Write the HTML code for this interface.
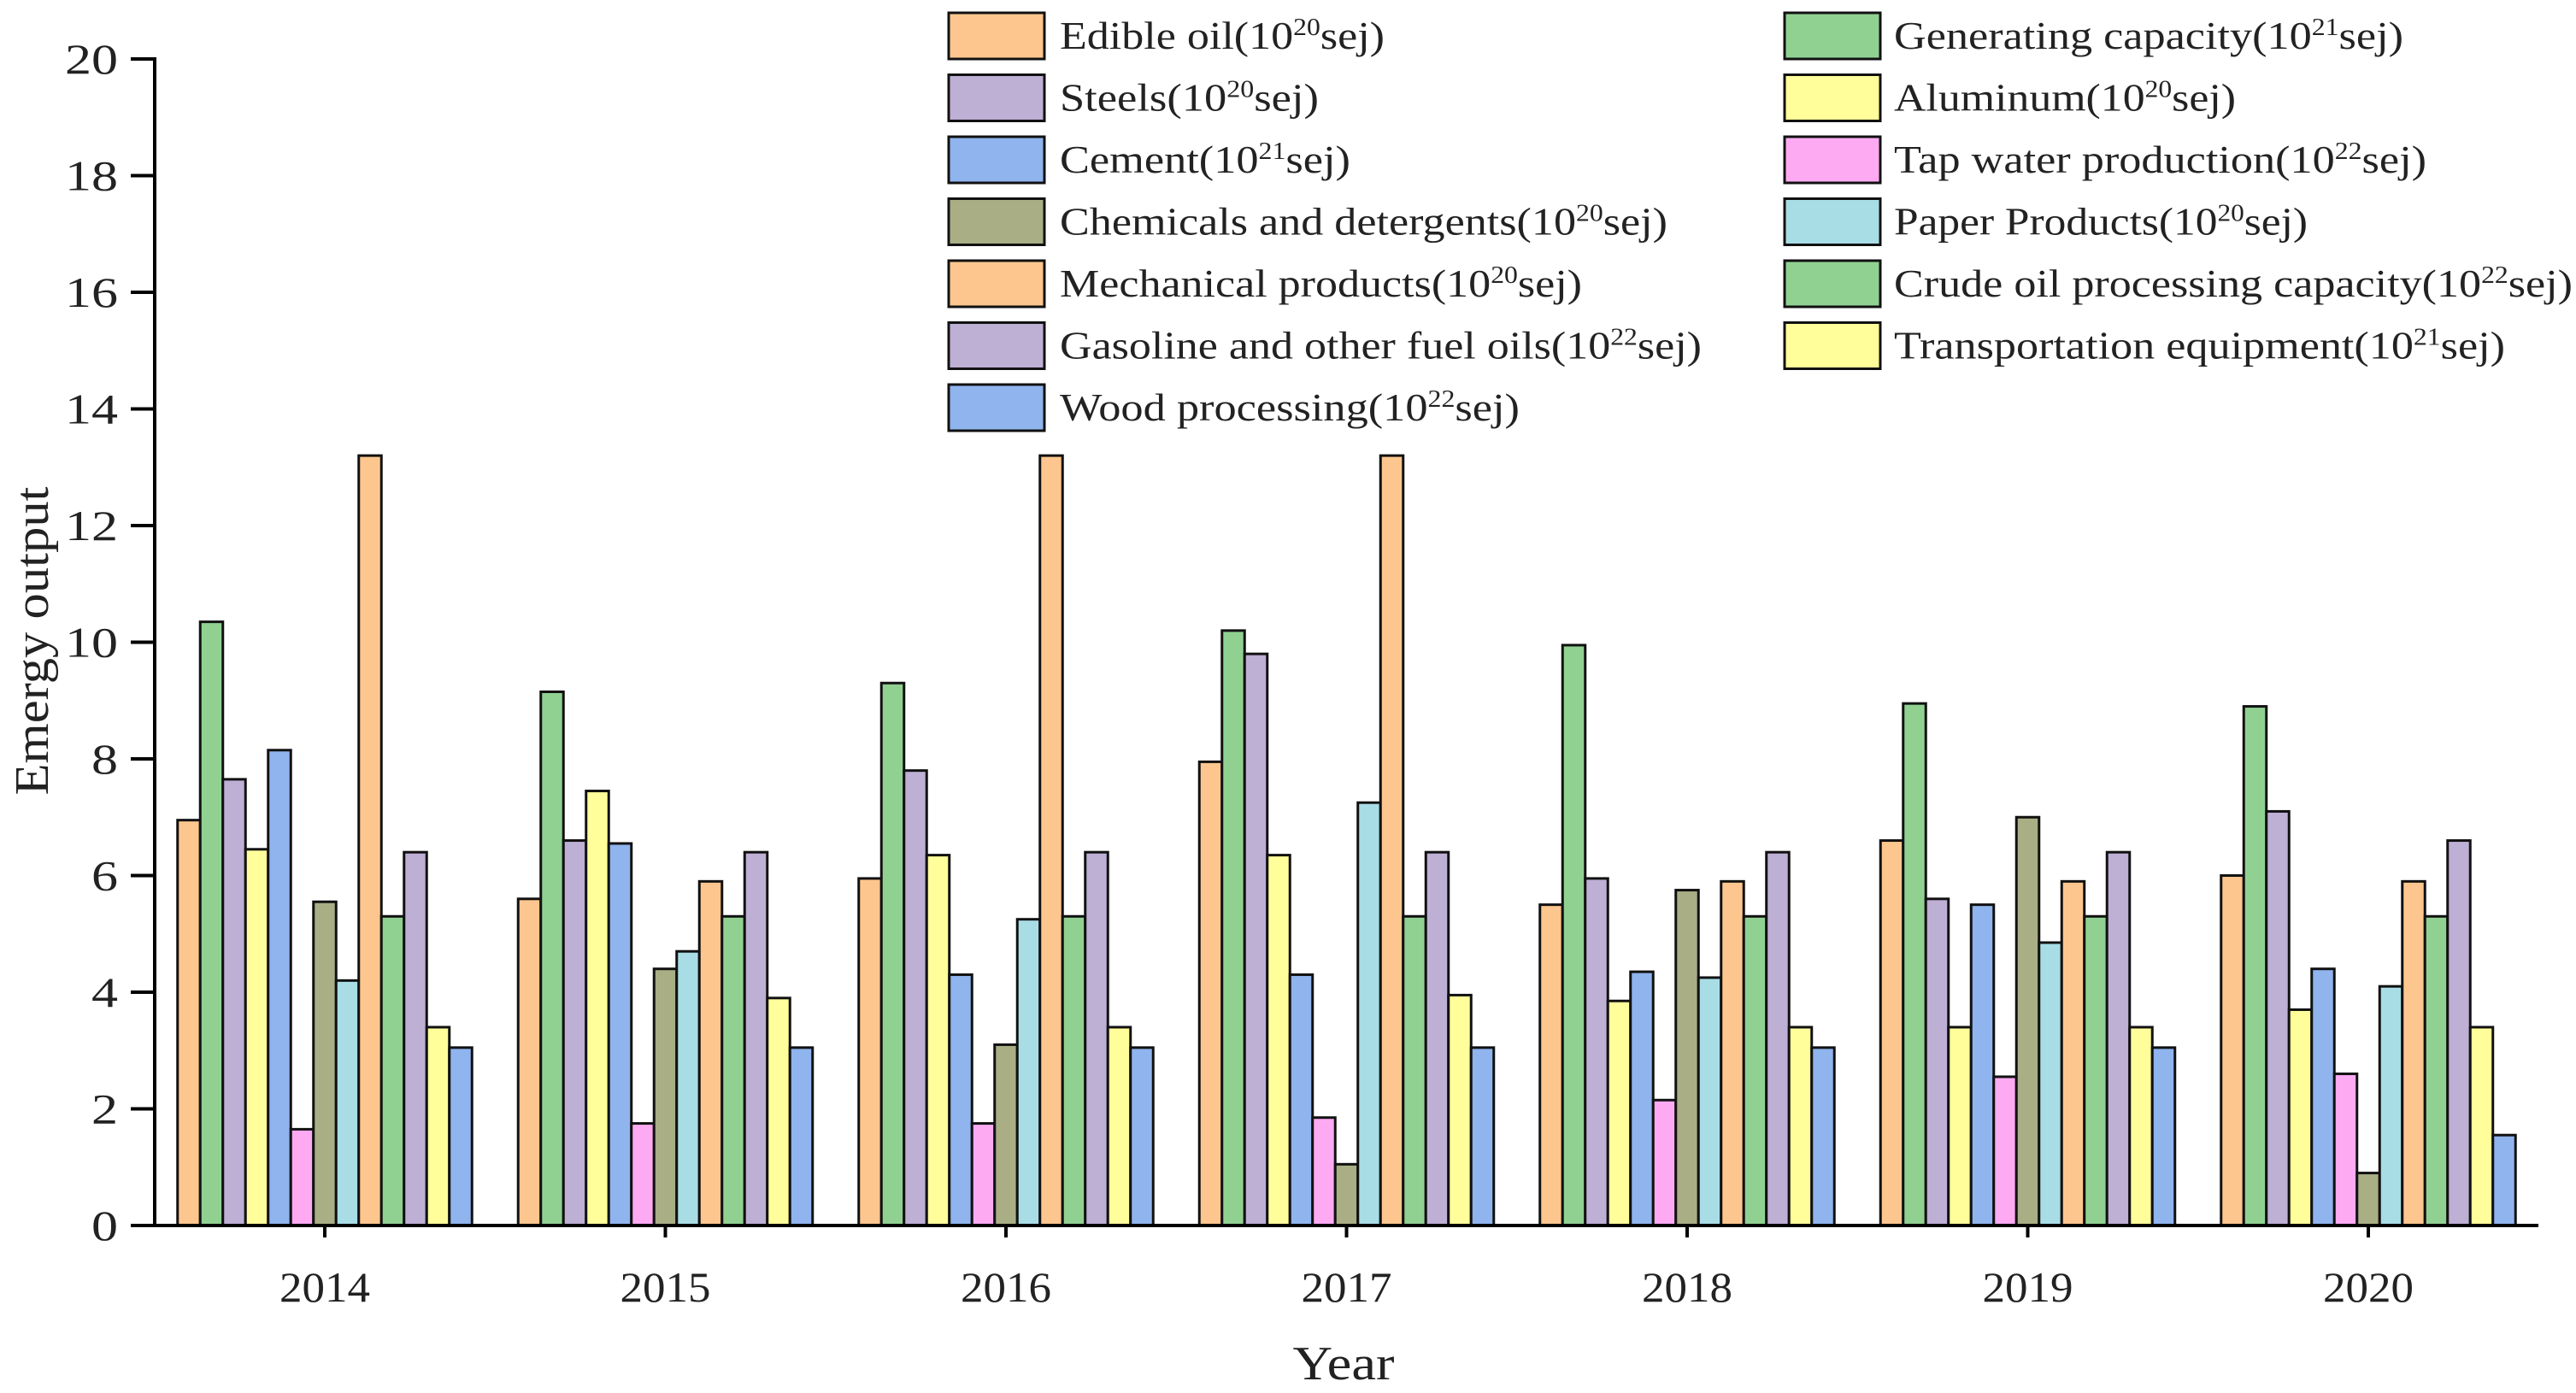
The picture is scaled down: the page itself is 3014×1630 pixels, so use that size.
<!DOCTYPE html>
<html><head><meta charset="utf-8"><style>html,body{margin:0;padding:0;background:#fff}svg{display:block}</style></head>
<body>
<svg id="chart" width="3014" height="1630" viewBox="0 0 3014 1630" xmlns="http://www.w3.org/2000/svg" font-family="'Liberation Serif', serif">
<g id="bars"></g>
<g id="axes"></g>
<g id="legend"></g>
</svg>
<script>
const years = ["2014","2015","2016","2017","2018","2019","2020"];
const seriesNames = ["Edible oil","Generating capacity","Steels","Aluminum","Cement","Tap water production","Chemicals and detergents","Paper Products","Mechanical products","Crude oil processing capacity","Gasoline and other fuel oils","Transportation equipment","Wood processing"];
const seriesExp = ["20","21","20","20","21","22","20","20","20","22","22","21","22"];
const edibleOil = [6.95,5.6,5.95,7.95,5.5,6.6,6.0];
const generating = [10.35,9.15,9.3,10.2,9.95,8.95,8.9];
const steels = [7.65,6.6,7.8,9.8,5.95,5.6,7.1];
const aluminum = [6.45,7.45,6.35,6.35,3.85,3.4,3.7];
const cement = [8.15,6.55,4.3,4.3,4.35,5.5,4.4];
const tapWater = [1.65,1.75,1.75,1.85,2.15,2.55,2.6];
const chemicals = [5.55,4.4,3.1,1.05,5.75,7.0,0.9];
const paper = [4.2,4.7,5.25,7.25,4.25,4.85,4.1];
const mechanical = [13.2,5.9,13.2,13.2,5.9,5.9,5.9];
const crudeOil = [5.3,5.3,5.3,5.3,5.3,5.3,5.3];
const gasoline = [6.4,6.4,6.4,6.4,6.4,6.4,6.6];
const transport = [3.4,3.9,3.4,3.95,3.4,3.4,3.4];
const wood = [3.05,3.05,3.05,3.05,3.05,3.05,1.55];
const yTicks = [0,2,4,6,8,10,12,14,16,18,20];

const allSeries = [edibleOil,generating,steels,aluminum,cement,tapWater,chemicals,paper,mechanical,crudeOil,gasoline,transport,wood];
const colors = ["#FDC68E","#90D192","#BEAFD5","#FFFE9A","#8FB4EE","#FDAAF3","#A9AE85","#A9DDE6","#FDC68E","#90D192","#BEAFD5","#FFFE9A","#8FB4EE"];
const NS = "http://www.w3.org/2000/svg";
const X0 = 181, X1 = 2970, Y0 = 1434, Y20 = 69;
const firstCenter = 380, groupStep = 398.5, barW = 26.5;
function yScale(v){ return Y0 - (v/20)*(Y0-Y20); }
function xCenter(i){ return firstCenter + i*groupStep; }
function mk(tag, attrs, parent){ const e=document.createElementNS(NS,tag); for(const k in attrs) e.setAttribute(k,attrs[k]); parent.appendChild(e); return e; }

const barsG = document.getElementById('bars');
years.forEach((yr, gi) => {
  const n = allSeries.length;
  allSeries.forEach((arr, si) => {
    const x = xCenter(gi) - n*barW/2 + si*barW;
    const y = yScale(arr[gi]);
    const r = mk('rect', {x:x, y:y, width:barW, height:Y0-y, fill:colors[si], stroke:"#111", "stroke-width":3}, barsG);
    
    
  });
});

const axG = document.getElementById('axes');
const ya = mk('line', {x1:X0, y1:Y20-2, x2:X0, y2:Y0+2, stroke:"#000","stroke-width":4}, axG);


const xa = mk('line', {x1:X0-2, y1:Y0, x2:X1, y2:Y0, stroke:"#000","stroke-width":4}, axG);


yTicks.forEach(t => {
  const y = yScale(t);
  mk('line', {x1:X0-28, y1:y, x2:X0, y2:y, stroke:"#000","stroke-width":4}, axG);
  const s = String(t);
  const tx = mk('text', {x:138, y:y+17, "text-anchor":"end", "font-size":50, fill:"#222", textLength:s.length*31, lengthAdjust:"spacingAndGlyphs"}, axG);
  tx.textContent = s;
  
  
});
years.forEach((yr, gi) => {
  const x = xCenter(gi);
  mk('line', {x1:x, y1:Y0, x2:x, y2:Y0+14, stroke:"#000","stroke-width":4}, axG);
  const tx = mk('text', {x:x, y:1523, "text-anchor":"middle", "font-size":50, fill:"#222", textLength:106, lengthAdjust:"spacingAndGlyphs"}, axG);
  tx.textContent = yr;
  
  
});
const yt = mk('text', {x:0, y:0, transform:"translate(56,750) rotate(-90)", "text-anchor":"middle", "font-size":56, fill:"#222", textLength:361, lengthAdjust:"spacingAndGlyphs"}, axG);
yt.textContent = "Emergy output";


const xt = mk('text', {x:1572, y:1614, "text-anchor":"middle", "font-size":56, fill:"#222", textLength:119, lengthAdjust:"spacingAndGlyphs"}, axG);
xt.textContent = "Year";



const legG = document.getElementById('legend');
const textEnds = [1620,2812,1543,2616,1580,2839,1951,2700,1851,3010,1991,2931,1778];
for (let i=0;i<seriesNames.length;i++){
  const col = i%2, row = Math.floor(i/2);
  const cy = 42 + row*72.5;
  const sx = col===0 ? 1110 : 2088;
  const tx0 = col===0 ? 1240 : 2216;
  const sw = mk('rect', {x:sx, y:cy-27, width:112, height:54, fill:colors[i], stroke:"#111","stroke-width":3}, legG);
  
  
  const t = mk('text', {x:tx0, y:cy+15, "font-size":46, fill:"#222", textLength:textEnds[i]-tx0, lengthAdjust:"spacingAndGlyphs"}, legG);
  
  
  const a = document.createElementNS(NS,'tspan'); a.textContent = seriesNames[i] + "(10"; t.appendChild(a);
  const b = document.createElementNS(NS,'tspan'); b.setAttribute('dy','-16'); b.setAttribute('font-size','28'); b.textContent = seriesExp[i]; t.appendChild(b);
  const c = document.createElementNS(NS,'tspan'); c.setAttribute('dy','16'); c.textContent = "sej)"; t.appendChild(c);
}
</script>
</body></html>
